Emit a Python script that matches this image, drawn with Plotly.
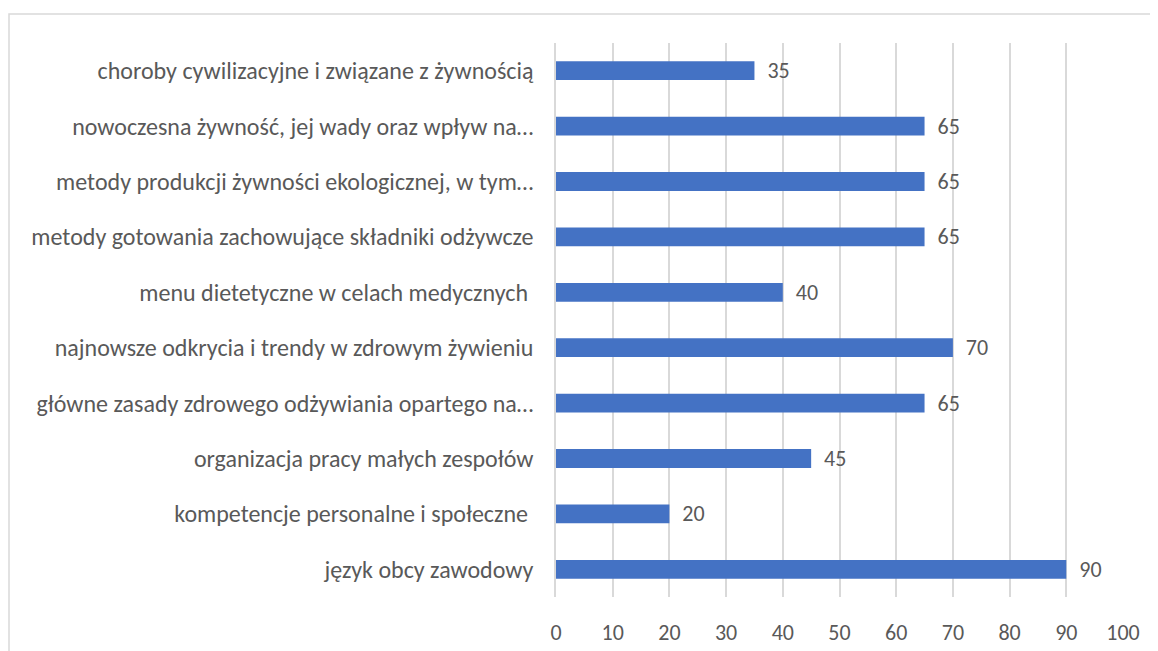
import plotly.graph_objects as go

categories = [
    "choroby cywilizacyjne i związane z żywnością",
    "nowoczesna żywność, jej wady oraz wpływ na…",
    "metody produkcji żywności ekologicznej, w tym…",
    "metody gotowania zachowujące składniki odżywcze",
    "menu dietetyczne w celach medycznych ",
    "najnowsze odkrycia i trendy w zdrowym żywieniu",
    "główne zasady zdrowego odżywiania opartego na…",
    "organizacja pracy małych zespołów",
    "kompetencje personalne i społeczne ",
    "język obcy zawodowy",
]
values = [35, 65, 65, 65, 40, 70, 65, 45, 20, 90]
x_ticks = [0, 10, 20, 30, 40, 50, 60, 70, 80, 90, 100]

FONT = "Calibri, Carlito, Lato, sans-serif"
GREY = "#595959"
FS = 22

# page body has an 8px margin; figure sits at (8, 8)
OFF = 8
W, H = 1158 - OFF, 651 - OFF
ml, mr, mt, mb = 556 - OFF, 35, 43 - OFF, 54
pw, ph = W - ml - mr, H - mt - mb

fig = go.Figure(
    go.Bar(
        x=values,
        y=categories,
        orientation="h",
        marker=dict(color="#4472C4", line=dict(width=0)),
        text=values,
        texttemplate="  %{x}",
        textposition="outside",
        constraintext="none",
        textfont=dict(family=FONT, size=FS, color=GREY),
        cliponaxis=False,
    )
)

fig.update_layout(
    width=W,
    height=H,
    margin=dict(l=ml, r=mr, t=mt, b=mb),
    paper_bgcolor="white",
    plot_bgcolor="white",
    bargap=0.66,
    showlegend=False,
    font=dict(family=FONT, color=GREY, size=FS),
    xaxis=dict(
        range=[0, 100],
        tickvals=x_ticks,
        showgrid=True,
        gridcolor="#d9d9d9",
        gridwidth=1.5,
        zeroline=False,
        showline=False,
        ticks="",
        automargin=False,
        ticklabelstandoff=20,
        tickfont=dict(family=FONT, size=FS, color=GREY),
    ),
    yaxis=dict(
        categoryorder="array",
        categoryarray=categories[::-1],
        showgrid=False,
        zeroline=False,
        showline=True,
        linecolor="#d9d9d9",
        linewidth=1.5,
        ticks="",
        automargin=False,
        ticklabelstandoff=16,
        tickfont=dict(family=FONT, size=24, color=GREY),
    ),
    shapes=[
        dict(
            type="rect",
            xref="paper",
            yref="paper",
            x0=(9 - 556) / pw,
            x1=(1165 - 556) / pw,
            y0=(597 - 660) / ph,
            y1=1 + (43 - 14) / ph,
            line=dict(color="#d9d9d9", width=1.5),
            fillcolor="rgba(0,0,0,0)",
            layer="below",
        )
    ],
)

fig.write_html("out.html")
